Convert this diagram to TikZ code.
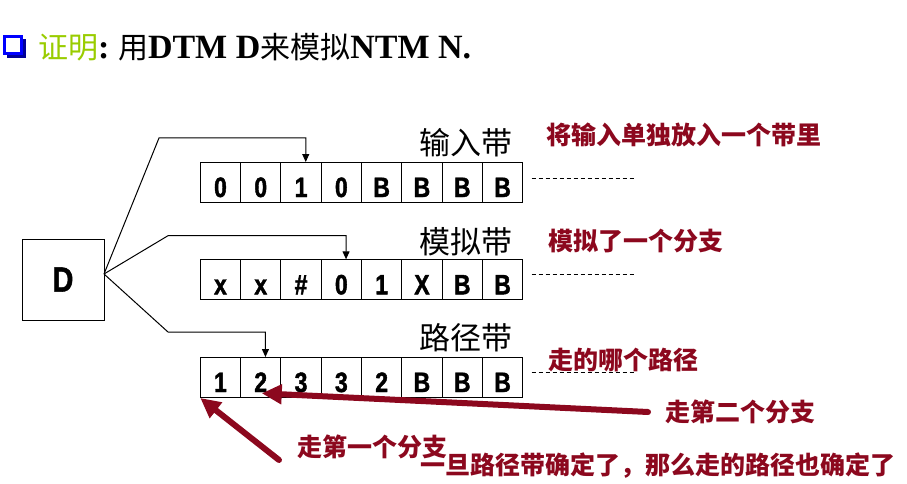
\documentclass[tikz,border=0pt]{standalone}
\usepackage{fontspec}
\setmainfont{Liberation Serif}
\setsansfont{Liberation Sans}
\newfontfamily\cjk{Noto Sans CJK SC}
\newfontfamily\cellfont[FakeStretch=0.82,FakeBold=1.5]{Liberation Sans}
\usetikzlibrary{arrows.meta}
\definecolor{dred}{RGB}{140,8,30}
\definecolor{ygreen}{RGB}{153,204,0}
\definecolor{bblue}{RGB}{0,0,255}
\tikzset{
  cell/.style={draw, line width=1pt, minimum width=40.3pt, inner sep=0pt, outer sep=0pt,
    text height=35pt, text depth=5pt, font=\cellfont\bfseries\fontsize{28}{28}\selectfont},
  tlabel/.style={anchor=east, inner sep=0pt, font=\cjk\fontsize{31}{31}\selectfont},
  note/.style={anchor=west, inner sep=0pt, text=dred, font=\cjk\bfseries\fontsize{25}{25}\selectfont},
  ptr/.style={line width=1pt, -{Triangle[length=8pt,width=7pt]}},
  dashln/.style={line width=0.8pt, dash pattern=on 4pt off 3pt},
  bigarrow/.style={dred, line width=6pt, line cap=round, -{Triangle[length=20pt,width=19pt]}},
}
\begin{document}
\begin{tikzpicture}[x=1pt,y=-1pt]
\useasboundingbox (0,0) rectangle (907,484);
% title bullet
\draw[bblue, line width=3pt] (4.5,36.5) rectangle (21.5,53.5);
\fill[bblue!60!black] (23,39) rectangle (25.5,58);
\fill[bblue!60!black] (7,55) rectangle (25.5,58);
\node[anchor=base west, inner sep=0pt] (title) at (38,59)
  {\fontsize{30}{30}\selectfont{\color{ygreen}\cjk 证明}\fontsize{34}{34}\selectfont\bfseries:\ {\cjk\fontsize{30}{30}\selectfont\mdseries 用}DTM D{\cjk\fontsize{30}{30}\selectfont\mdseries 来模拟}NTM N.};
% D box
\node[draw, line width=1pt, minimum width=82pt, minimum height=81pt, inner sep=0pt,
  font=\cellfont\bfseries\fontsize{35}{35}\selectfont] (D) at (63,279.5) {D};
\coordinate (dp) at (104,274);
% tapes
\foreach \s [count=\i] in {0,0,1,0,B,B,B,B}
  \node[cell] (a\i) at ({200.3+40.3*(\i-0.5)},182) {\s};
\foreach \s [count=\i] in {x,x,\#,0,1,X,B,B}
  \node[cell] (b\i) at ({200.3+40.3*(\i-0.5)},279.3) {\s};
\foreach \s [count=\i] in {1,2,3,3,2,B,B,B}
  \node[cell] (c\i) at ({200.3+40.3*(\i-0.5)},377) {\s};
% tape labels
\node[tlabel] (la) at (513,143) {输入带};
\node[tlabel] (lb) at (513,242) {模拟带};
\node[tlabel] (lc) at (513,338) {路径带};
% dashed continuations
\draw[dashln] ([shift={(9pt,4pt)}]a8.east) -- ++(103pt,0);
\draw[dashln] ([shift={(9pt,5pt)}]b8.east) -- ++(103pt,0);
\draw[dashln] ([shift={(9pt,5pt)}]c8.east) -- ++(103pt,0);
% head pointers
\coordinate (k1) at (159,138);
\coordinate (k2) at (168,235.7);
\coordinate (k3) at (168,332);
\draw[ptr] (dp) -- (k1) -| ([xshift=4.7pt]a3.north);
\draw[ptr] (dp) -- (k2) -| ([xshift=4.7pt]b4.north);
\draw[ptr] (dp) -- (k3) -| ([xshift=4.7pt]c2.north);
% notes
\node[note] (n1) at (546,135) {将输入单独放入一个带里};
\node[note] (n2) at (548,241) {模拟了一个分支};
\node[note] (n3) at (548,360.5) {走的哪个路径};
\node[note] (n4) at (297,447) {走第一个分支};
\node[note] (n5) at (665,412) {走第二个分支};
\node[note] (n6) at (420,466) {一旦路径带确定了，那么走的路径也确定了};
% big arrows
\draw[bigarrow] ([xshift=-17pt]n5.west) -- ([shift={(1pt,3.7pt)}]c2.south);
\draw[bigarrow] ([shift={(-18pt,-13pt)}]n4.west) -- ([yshift=-1pt]c1.south west);
\end{tikzpicture}
\end{document}
